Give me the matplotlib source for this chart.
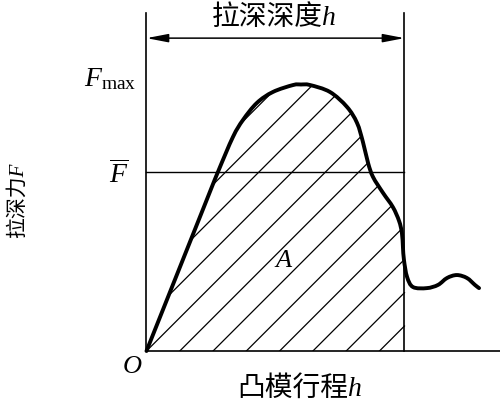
import numpy as np
import matplotlib
matplotlib.use("Agg")
import matplotlib.pyplot as plt
from matplotlib.patches import PathPatch
from matplotlib.path import Path

plt.rcParams['mathtext.fontset'] = 'custom'
plt.rcParams['mathtext.rm'] = 'Liberation Serif'
plt.rcParams['mathtext.it'] = 'Liberation Serif:italic'

# ---- data (punch stroke vs drawing force, arbitrary units) ----
stroke = [0, 22.4, 27.7, 33.5, 37.4, 42.8, 49.0, 56.8, 59.9, 63.4, 71.1, 77.7,
          81.6, 83.9, 85.9, 87.8, 91.7, 95.5, 97.9, 99.0, 99.4, 99.8, 101.0,
          103.3, 108.7, 113.0, 116.5, 120.3, 124.2, 127.3, 128.9]
force = [0, 54.4, 67.2, 80.3, 86.7, 93.1, 97.2, 99.8, 100.0, 99.8, 97.2, 91.6,
         85.6, 78.4, 70.5, 65.3, 59.3, 54.0, 48.8, 44.3, 39.0, 34.1, 27.8,
         24.0, 23.6, 24.8, 27.4, 28.5, 27.4, 24.8, 23.6]
depth_h = 100.0        # drawing depth h
F_mean = 67.2          # mean force
F_max = max(force)

title_text = "拉深深度h"
xlabel_text = "凸模行程h"
ylabel_text = "拉深力F"


def smooth_path(xs, ys, closing=None):
    """Catmull-Rom curve through the given points, as a Bezier Path."""
    p = np.column_stack([xs, ys]).astype(float)
    n = len(p)
    verts = [p[0]]
    codes = [Path.MOVETO]
    for i in range(n - 1):
        p0 = p[i - 1] if i > 0 else p[i]
        p1 = p[i]
        p2 = p[i + 1]
        p3 = p[i + 2] if i + 2 < n else p[i + 1]
        c1 = p1 + (p2 - p0) / 6.0
        c2 = p2 - (p3 - p1) / 6.0
        verts += [c1, c2, p2]
        codes += [Path.CURVE4] * 3
    if closing is not None:
        for q in closing:
            verts.append(q)
            codes.append(Path.LINETO)
        verts.append(p[0])
        codes.append(Path.CLOSEPOLY)
    return Path(np.array(verts), codes)


# ---- figure ----
fig = plt.figure(figsize=(5.0, 4.16), dpi=100)
ax = fig.add_axes([0, 0, 1, 1])
ax.set_xlim(-56.78, 137.02)
ax.set_ylim(-24.39, 131.71)
ax.axis('off')

top = 126.8
lw_thin = 1.2
ax.plot([0, 0], [0, top], color='k', lw=lw_thin)
ax.plot([0, 137.02], [0, 0], color='k', lw=lw_thin)
ax.plot([depth_h, depth_h], [0, top], color='k', lw=lw_thin)
ax.plot([0, depth_h], [F_mean, F_mean], color='k', lw=1.0)

ax.annotate('', xy=(depth_h, 117.4), xytext=(0, 117.4),
            arrowprops=dict(arrowstyle='<|-|>,head_length=1.3,head_width=0.25',
                            lw=1.1, color='k', shrinkA=0, shrinkB=0,
                            mutation_scale=10))

# ---- hatched work area ----
s = np.array(stroke)
f = np.array(force)
mask = s <= depth_h + 1.5
clip_path = smooth_path(s[mask], f[mask],
                        closing=[(depth_h + 1.5, 0)])
clip = PathPatch(clip_path, fill=False, lw=0, transform=ax.transData)
ax.add_patch(clip)
# restrict to the left of the drawing-depth line
from matplotlib.patches import Rectangle
spacing = 12.9
slope = 2.58 / 2.665
for k in range(-12, 12):
    x0 = k * spacing
    xe = min(x0 + 200, depth_h)
    ln, = ax.plot([x0, xe], [0, (xe - x0) * slope], color='k', lw=0.9)
    ln.set_clip_path(clip)

curve = PathPatch(smooth_path(stroke, force), fill=False, edgecolor='k',
                  lw=2.8, joinstyle='round', capstyle='round', zorder=3)
ax.add_patch(curve)

# ---- texts ----
mixed = ['Liberation Serif', 'Noto Sans CJK SC']
ax.text(depth_h / 2 - 0.6, 125.0, title_text, family=mixed, style='italic',
        fontsize=20, ha='center', va='center')
ax.text(59.5, -14.3, xlabel_text, family=mixed, style='italic',
        fontsize=20, ha='center', va='center')
ax.text(-49.8, 56.7, ylabel_text, family=mixed, style='italic',
        fontsize=15, ha='center', va='center', rotation=90)

ax.text(-4.1, F_max - 0.6, r'$F_{\mathrm{max}}$', fontsize=20, ha='right', va='baseline')
ax.text(-7.2, F_mean - 4.2, r'$\overline{F}$', fontsize=20, ha='right', va='baseline')
ax.text(-1.7, -8.3, r'$O$', fontsize=19, ha='right', va='baseline')
ax.text(53.3, 31.5, r'$A$', fontsize=19, ha='center', va='baseline')

fig.savefig('out.png', dpi=100)
